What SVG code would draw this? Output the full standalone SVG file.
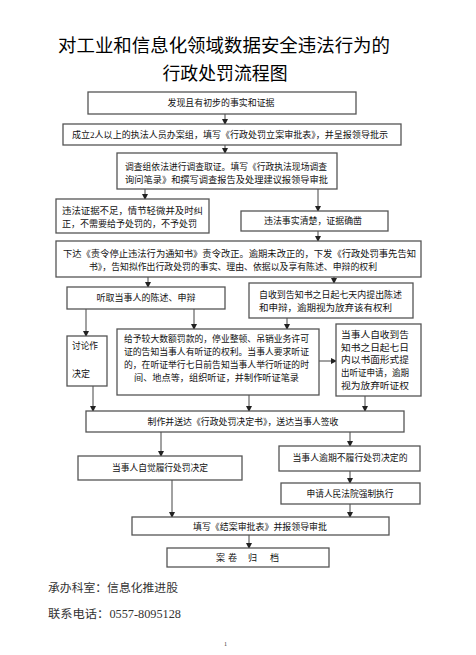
<svg xmlns="http://www.w3.org/2000/svg" width="476" height="655" viewBox="0 0 476 655">
<defs>
<marker id="ah" markerWidth="6" markerHeight="6" refX="5" refY="3" orient="auto" markerUnits="userSpaceOnUse">
<path d="M0,0 L6,3 L0,6 Z" fill="#222"/>
</marker>
<style>
.b{fill:#fff;stroke:#555;stroke-width:1.3}
.t{font-family:"Liberation Serif","Noto Sans CJK SC",serif;font-size:9px;fill:#111}
.m{text-anchor:middle}
.c{fill:none;stroke:#444;stroke-width:1;marker-end:url(#ah)}
.title{font-family:"Noto Sans CJK SC",sans-serif;font-size:18px;fill:#000;text-anchor:middle}
.f{font-family:"Liberation Serif","Noto Sans CJK SC",serif;font-size:11.5px;fill:#333}
</style>
</defs>
<rect width="476" height="655" fill="#fff"/>
<g id="title">
<text class="title" x="224" y="52" textLength="332" lengthAdjust="spacingAndGlyphs">对工业和信息化领域数据安全违法行为的</text>
<text class="title" x="225" y="80" textLength="125" lengthAdjust="spacingAndGlyphs">行政处罚流程图</text>
</g>
<g id="connectors">
<line class="c" x1="225" y1="114" x2="225" y2="124"/>
<line class="c" x1="225" y1="145" x2="225" y2="153"/>
<line class="c" x1="145" y1="189" x2="145" y2="199"/>
<line class="c" x1="318" y1="189" x2="318" y2="211"/>
<line class="c" x1="318" y1="231" x2="318" y2="241"/>
<line class="c" x1="148" y1="277" x2="148" y2="287"/>
<line class="c" x1="334" y1="277" x2="334" y2="283"/>
<line class="c" x1="86" y1="309" x2="86" y2="336"/>
<line class="c" x1="194" y1="309" x2="194" y2="329"/>
<line class="c" x1="287" y1="318" x2="287" y2="329"/>
<line class="c" x1="319" y1="361" x2="336" y2="361"/>
<line class="c" x1="93" y1="386" x2="93" y2="411"/>
<line class="c" x1="249" y1="395" x2="249" y2="411"/>
<line class="c" x1="365" y1="396" x2="365" y2="411"/>
<line class="c" x1="161" y1="432" x2="161" y2="456"/>
<line class="c" x1="350" y1="432" x2="350" y2="446"/>
<line class="c" x1="350" y1="471" x2="350" y2="483"/>
<line class="c" x1="172" y1="480" x2="172" y2="517"/>
<line class="c" x1="350" y1="504" x2="350" y2="517"/>
<line class="c" x1="249" y1="535" x2="249" y2="548"/>
</g>
<g id="n1"><rect class="b" x="88" y="92" width="268" height="22"/>
<text class="t m" x="221" y="106" textLength="107" lengthAdjust="spacingAndGlyphs">发现且有初步的事实和证据</text></g>
<g id="n2"><rect class="b" x="63" y="124" width="338" height="21"/>
<text class="t m" x="230" y="138" textLength="316" lengthAdjust="spacingAndGlyphs">成立2人以上的执法人员办案组，填写《行政处罚立案审批表》，并呈报领导批示</text></g>
<g id="n3"><rect class="b" x="117" y="153" width="220" height="36"/>
<text class="t" x="125" y="170" textLength="202" lengthAdjust="spacingAndGlyphs">调查组依法进行调查取证。填写《行政执法现场调查</text>
<text class="t" x="125" y="183" textLength="203" lengthAdjust="spacingAndGlyphs">询问笔录》和撰写调查报告及处理建议报领导审批</text></g>
<g id="n4"><rect class="b" x="56" y="199" width="153" height="34"/>
<text class="t" x="62" y="214" textLength="141" lengthAdjust="spacingAndGlyphs">违法证据不足，情节轻微并及时纠</text>
<text class="t" x="62" y="227" textLength="135" lengthAdjust="spacingAndGlyphs">正，不需要给予处罚的，不予处罚</text></g>
<g id="n5"><rect class="b" x="241" y="211" width="147" height="20"/>
<text class="t m" x="313" y="224" textLength="98" lengthAdjust="spacingAndGlyphs">违法事实清楚，证据确凿</text></g>
<g id="n6"><rect class="b" x="56" y="241" width="365" height="36"/>
<text class="t" x="63" y="257" textLength="353" lengthAdjust="spacingAndGlyphs">下达《责令停止违法行为通知书》责令改正。逾期未改正的，下发《行政处罚事先告知</text>
<text class="t m" x="233" y="270" textLength="288" lengthAdjust="spacingAndGlyphs">书》，告知拟作出行政处罚的事实、理由、依据以及享有陈述、申辩的权利</text></g>
<g id="n7"><rect class="b" x="67" y="287" width="158" height="22"/>
<text class="t m" x="146" y="301" textLength="99" lengthAdjust="spacingAndGlyphs">听取当事人的陈述、申辩</text></g>
<g id="n8"><rect class="b" x="249" y="283" width="164" height="35"/>
<text class="t" x="259" y="298" textLength="143" lengthAdjust="spacingAndGlyphs">自收到告知书之日起七天内提出陈述</text>
<text class="t" x="259" y="311" textLength="133" lengthAdjust="spacingAndGlyphs">和申辩，逾期视为放弃该有权利</text></g>
<g id="n9"><rect class="b" x="67" y="336" width="40" height="50"/>
<text class="t" x="72" y="349" textLength="26" lengthAdjust="spacingAndGlyphs">讨论作</text>
<text class="t" x="72" y="377" textLength="18" lengthAdjust="spacingAndGlyphs">决定</text></g>
<g id="n10"><rect class="b" x="117" y="329" width="202" height="66"/>
<text class="t" x="124" y="342" textLength="185" lengthAdjust="spacingAndGlyphs">给予较大数额罚款的，停业整顿、吊销业务许可</text>
<text class="t" x="124" y="355" textLength="185" lengthAdjust="spacingAndGlyphs">证的告知当事人有听证的权利。当事人要求听证</text>
<text class="t" x="124" y="368" textLength="185" lengthAdjust="spacingAndGlyphs">的，在听证举行七日前告知当事人举行听证的时</text>
<text class="t" x="134" y="381" textLength="165" lengthAdjust="spacingAndGlyphs">间、地点等，组织听证，并制作听证笔录</text></g>
<g id="n11"><rect class="b" x="336" y="324" width="85" height="72"/>
<text class="t" x="341" y="338" textLength="68" lengthAdjust="spacingAndGlyphs">当事人自收到告</text>
<text class="t" x="341" y="351" textLength="68" lengthAdjust="spacingAndGlyphs">知书之日起七日</text>
<text class="t" x="341" y="363" textLength="68" lengthAdjust="spacingAndGlyphs">内以书面形式提</text>
<text class="t" x="341" y="376" textLength="68" lengthAdjust="spacingAndGlyphs">出听证申请，逾期</text>
<text class="t" x="341" y="389" textLength="68" lengthAdjust="spacingAndGlyphs">视为放弃听证权</text></g>
<g id="n12"><rect class="b" x="86" y="411" width="318" height="21"/>
<text class="t m" x="243" y="425" textLength="191" lengthAdjust="spacingAndGlyphs">制作并送达《行政处罚决定书》，送达当事人签收</text></g>
<g id="n13"><rect class="b" x="78" y="456" width="164" height="24"/>
<text class="t m" x="160" y="471" textLength="96" lengthAdjust="spacingAndGlyphs">当事人自觉履行处罚决定</text></g>
<g id="n14"><rect class="b" x="279" y="446" width="141" height="25"/>
<text class="t m" x="350" y="461" textLength="115" lengthAdjust="spacingAndGlyphs">当事人逾期不履行处罚决定的</text></g>
<g id="n15"><rect class="b" x="281" y="483" width="139" height="21"/>
<text class="t m" x="350" y="497" textLength="87" lengthAdjust="spacingAndGlyphs">申请人民法院强制执行</text></g>
<g id="n16"><rect class="b" x="132" y="517" width="257" height="18"/>
<text class="t m" x="260" y="529.5" textLength="134" lengthAdjust="spacingAndGlyphs">填写《结案审批表》并报领导审批</text></g>
<g id="n17"><rect class="b" x="167" y="548" width="162" height="19"/>
<text class="t" x="216 228 240 248 260 270" y="561">案卷 归 档</text></g>
<g id="footer">
<text class="f" x="48" y="592" textLength="130" lengthAdjust="spacingAndGlyphs">承办科室：信息化推进股</text>
<text class="f" x="48" y="618" textLength="133" lengthAdjust="spacingAndGlyphs">联系电话：0557-8095128</text>
<text x="224" y="646" font-family="Liberation Serif,serif" font-size="6" fill="#333">1</text>
</g>
</svg>
